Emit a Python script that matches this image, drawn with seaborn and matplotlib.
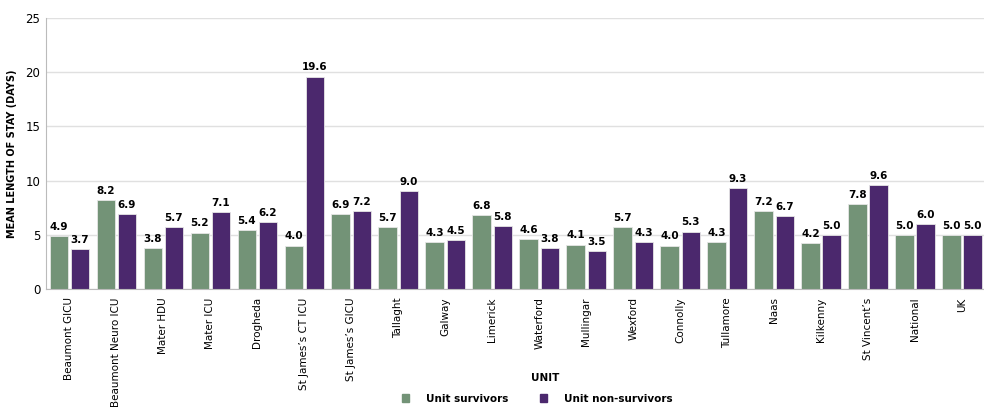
import pandas as pd
import matplotlib.pyplot as plt
import seaborn as sns

units = ['Beaumont GICU', 'Beaumont Neuro ICU', 'Mater HDU', 'Mater ICU', 'Drogheda',
         'St James’s CT ICU', 'St James’s GICU', 'Tallaght', 'Galway', 'Limerick',
         'Waterford', 'Mullingar', 'Wexford', 'Connolly', 'Tullamore', 'Naas',
         'Kilkenny', 'St Vincent’s', 'National', 'UK']
survivors = [4.9, 8.2, 3.8, 5.2, 5.4, 4.0, 6.9, 5.7, 4.3, 6.8,
             4.6, 4.1, 5.7, 4.0, 4.3, 7.2, 4.2, 7.8, 5.0, 5.0]
non_survivors = [3.7, 6.9, 5.7, 7.1, 6.2, 19.6, 7.2, 9.0, 4.5, 5.8,
                 3.8, 3.5, 4.3, 5.3, 9.3, 6.7, 5.0, 9.6, 6.0, 5.0]
series = ['Unit survivors', 'Unit non-survivors']
colours = ['#739377', '#4b286d']

df = pd.DataFrame({'unit': units * 2,
                   'value': survivors + non_survivors,
                   'group': [series[0]] * len(units) + [series[1]] * len(units)})

sns.set_style('white')
plt.rcParams['font.family'] = ['DejaVu Sans']
plt.rcParams['text.color'] = 'black'
plt.rcParams['axes.labelcolor'] = 'black'
plt.rcParams['xtick.labelcolor'] = 'black'
plt.rcParams['ytick.labelcolor'] = 'black'

fig = plt.figure(figsize=(9.84, 4.11), dpi=100)
ax = fig.add_axes([0.0467, 0.297, 0.955, 0.659])

sns.barplot(data=df, x='unit', y='value', hue='group', palette=colours,
            width=0.9, gap=0.12, edgecolor='#e6e6e6', linewidth=0.6,
            saturation=1, ax=ax, legend=False)

for cont in ax.containers:
    ax.bar_label(cont, fmt='%.1f', padding=3, fontsize=7.5, fontweight='bold', color='black')

ax.set_ylim(0, 25)
ax.set_yticks([0, 5, 10, 15, 20, 25])
ax.set_xlim(-0.5, len(units) - 0.5)
ax.yaxis.grid(True, color='#e0e0e0', linewidth=1)
ax.set_axisbelow(True)
for s in ['top', 'right']:
    ax.spines[s].set_visible(False)
ax.spines['left'].set_color('#bbbbbb')
ax.spines['bottom'].set_color('#bbbbbb')

ax.set_xticks([i for i in range(len(units))])
ax.set_xticklabels(units, rotation=90, fontsize=7.5)
ax.tick_params(axis='x', length=0, pad=6)
ax.tick_params(axis='y', length=0, labelsize=8.5, pad=4)
# small separator ticks between the groups
ax.set_xticks([i - 0.5 for i in range(len(units) + 1)], minor=True)
ax.tick_params(axis='x', which='minor', length=4, color='#bbbbbb')

ax.set_xlabel('UNIT', fontsize=7.5, fontweight='bold')
ax.xaxis.set_label_coords(0.531, -0.31)
ax.set_ylabel('MEAN LENGTH OF STAY (DAYS)', fontsize=7, fontweight='bold', labelpad=6)

handles = [plt.Rectangle((0, 0), 1, 1, color=c) for c in colours]
fig.legend(handles, series, loc='lower center', bbox_to_anchor=(0.546, -0.005), ncol=2,
           frameon=False, handlelength=0.7, handleheight=0.7, handletextpad=1.6,
           columnspacing=3.0, prop={'weight': 'bold', 'size': 7.5})

fig.savefig('out.png', dpi=100)
